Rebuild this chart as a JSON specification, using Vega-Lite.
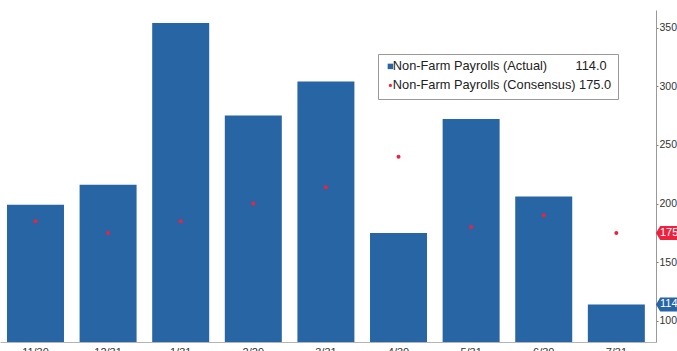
{
  "$schema": "https://vega.github.io/schema/vega-lite/v6.json",
  "width": 656,
  "height": 332,
  "autosize": {"type": "none"},
  "padding": {"left": 0, "top": 10, "right": 21, "bottom": 9},
  "background": "white",
  "config": {
    "view": {"stroke": null},
    "font": "Liberation Sans"
  },
  "data": {
    "values": [
      {"date": "11/30", "actual": 199, "consensus": 185},
      {"date": "12/31", "actual": 216, "consensus": 175},
      {"date": "1/31", "actual": 354, "consensus": 185},
      {"date": "2/29", "actual": 275, "consensus": 200},
      {"date": "3/31", "actual": 304, "consensus": 214},
      {"date": "4/30", "actual": 175, "consensus": 240},
      {"date": "5/31", "actual": 272, "consensus": 180},
      {"date": "6/30", "actual": 206, "consensus": 190},
      {"date": "7/31", "actual": 114, "consensus": 175}
    ]
  },
  "encoding": {
    "x": {
      "field": "date",
      "type": "ordinal",
      "sort": null,
      "scale": {"paddingInner": 0.215, "paddingOuter": 0.125, "align": 0.385},
      "axis": {
        "title": null,
        "labelAngle": 0,
        "ticks": false,
        "domainColor": "#b4b4b4",
        "labelFont": "Liberation Sans",
        "labelFontSize": 11,
        "labelColor": "#333333",
        "labelPadding": 4
      }
    }
  },
  "layer": [
    {
      "mark": {"type": "bar", "color": "#2765a5", "clip": true},
      "encoding": {
        "y": {
          "field": "actual",
          "type": "quantitative",
          "scale": {"domain": [82, 365], "nice": false, "zero": false},
          "axis": {
            "orient": "right",
            "title": null,
            "grid": false,
            "zindex": 0,
            "values": [100, 125, 150, 175, 200, 225, 250, 275, 300, 325, 350],
            "labelExpr": "datum.value % 50 === 0 ? datum.label : ''",
            "tickSize": 2,
            "tickColor": "#777777",
            "domainColor": "#999999",
            "labelFont": "Liberation Sans",
            "labelFontSize": 10.5,
            "labelColor": "#333333",
            "labelPadding": 1,
            "encode": {
              "ticks": {"update": {"x2": {"signal": "datum.value % 50 === 0 ? 3 : 2"}}}
            }
          }
        },
        "y2": {"datum": 82},
        "color": {
          "datum": "Non-Farm Payrolls (Actual)",
          "scale": {
            "domain": ["Non-Farm Payrolls (Actual)", "Non-Farm Payrolls (Consensus)"],
            "range": ["#2765a5", "#f0213f"]
          },
          "legend": {
            "title": null,
            "orient": "none",
            "legendX": 378,
            "legendY": 44,
            "padding": 6,
            "strokeColor": "#999999",
            "fillColor": "#ffffff",
            "labelFont": "Liberation Sans",
            "labelFontSize": 12.8,
            "labelLimit": 0,
            "labelColor": "#222222",
            "labelOffset": -4,
            "rowPadding": 5,
            "symbolSize": 30,
            "labelExpr": "datum.label === 'Non-Farm Payrolls (Actual)' ? datum.label + '\u00a0\u00a0\u00a0\u00a0\u00a0\u00a0\u00a0\u00a0114.0' : datum.label + ' 175.0'",
            "encode": {
              "symbols": {
                "update": {
                  "shape": {"signal": "datum.value === 'Non-Farm Payrolls (Actual)' ? 'square' : 'circle'"},
                  "size": {"signal": "datum.value === 'Non-Farm Payrolls (Actual)' ? 30 : 10"},
                  "strokeWidth": {"value": 0}
                }
              }
            }
          }
        }
      }
    },
    {
      "mark": {"type": "point", "filled": true, "size": 16, "opacity": 1},
      "encoding": {
        "y": {"field": "consensus", "type": "quantitative"},
        "color": {"datum": "Non-Farm Payrolls (Consensus)"}
      }
    },
    {
      "transform": [
        {"filter": "datum.date === '7/31'"},
        {"fold": ["actual", "consensus"], "as": ["key", "value"]}
      ],
      "layer": [
        {
          "mark": {
            "type": "point",
            "filled": true,
            "opacity": 1,
            "size": 196,
            "clip": false,
            "shape": "M0,0 L0.6,-1 L3,-1 L3,1 L0.6,1 Z"
          },
          "encoding": {
            "x": {"value": "width"},
            "y": {"field": "value", "type": "quantitative"},
            "color": {
              "condition": {"test": "datum.key === 'actual'", "value": "#2765a5"},
              "value": "#f0213f"
            }
          }
        },
        {
          "mark": {
            "type": "text",
            "align": "left",
            "baseline": "middle",
            "dx": 4,
            "font": "Liberation Sans",
            "fontSize": 11,
            "color": "white"
          },
          "encoding": {
            "x": {"value": "width"},
            "y": {"field": "value", "type": "quantitative"},
            "text": {"field": "value", "type": "quantitative", "format": "d"}
          }
        }
      ]
    }
  ]
}
